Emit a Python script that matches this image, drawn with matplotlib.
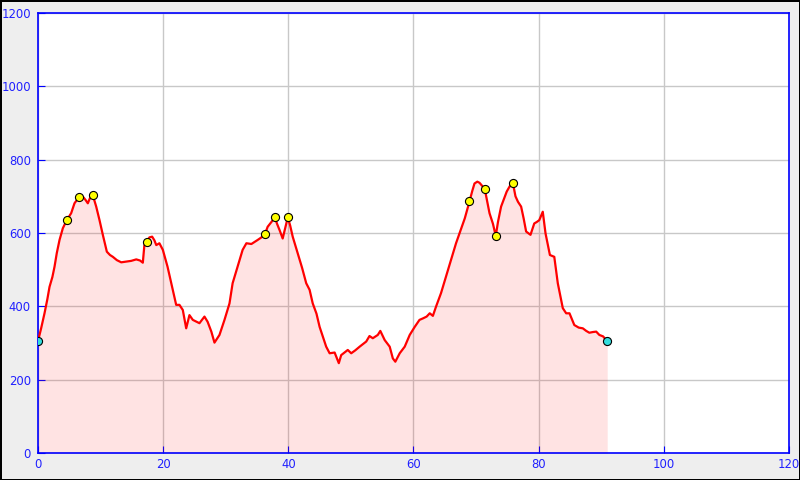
import numpy as np
import matplotlib
matplotlib.use("Agg")
import matplotlib.pyplot as plt

# elevation profile (km, m)
dist_km = [0.0, 0.5, 1.04, 1.5, 1.84, 2.3, 2.64, 3.0, 3.44, 3.97, 4.6, 5.3, 5.83, 6.52,
           7.0, 7.27, 7.6, 7.96, 8.3, 8.76, 9.3, 9.83, 10.36, 11.0, 11.5, 11.96, 12.6,
           13.3, 14.09, 14.9, 15.7, 16.3, 16.75, 17.0, 17.39, 17.8, 18.24, 18.6, 18.9,
           19.4, 19.95, 20.7, 21.54, 22.08, 22.6, 23.14, 23.68, 24.2, 24.74, 25.8, 26.6,
           27.1, 27.7, 28.2, 29.0, 29.8, 30.6, 31.1, 31.9, 32.7, 33.3, 34.1, 35.1, 35.7,
           36.25, 36.7, 37.3, 37.84, 38.2, 38.6, 39.1, 39.55, 39.92, 40.3, 40.7, 41.5,
           42.2, 42.86, 43.4, 43.9, 44.5, 45.0, 45.5, 46.05, 46.6, 47.4, 48.07, 48.45,
           49.5, 50.05, 50.7, 51.4, 52.45, 52.97, 53.5, 54.3, 54.7, 55.4, 56.2, 56.7,
           57.1, 57.8, 58.6, 59.4, 60.2, 60.96, 61.5, 62.1, 62.6, 63.1, 63.6, 64.4, 65.2,
           66.0, 66.8, 67.35, 68.2, 68.95, 69.4, 69.75, 70.2, 70.55, 71.0, 71.4, 72.15,
           72.7, 73.15, 73.5, 74.0, 74.5, 74.9, 75.4, 75.9, 76.3, 76.7, 77.2, 77.6, 78.0,
           78.7, 79.3, 79.7, 80.1, 80.66, 81.1, 81.8, 82.5, 83.06, 83.5, 83.86, 84.4,
           84.93, 85.7, 86.4, 87.06, 87.6, 88.1, 88.7, 89.2, 89.7, 90.3, 90.96]
elev_m = [305, 340, 381, 420, 453, 480, 508, 545, 581, 613, 635, 654, 681, 697,
          700, 697, 690, 681, 695, 703, 672, 635, 595, 549, 540, 535, 526,
          520, 522, 524, 528, 525, 519, 567, 575, 588, 590, 580, 567,
          572, 554, 508, 445, 404, 404, 390, 340, 376, 363, 354, 372,
          358, 331, 301, 322, 363, 408, 463, 508, 554, 572, 570, 581, 588,
          596, 617, 630, 643, 625, 608, 585, 617, 643, 620, 590, 545,
          505, 463, 445, 408, 380, 344, 318, 290, 272, 274, 245, 267,
          281, 272, 280, 290, 304, 319, 313, 322, 333, 308, 290, 258,
          249, 272, 290, 322, 344, 363, 367, 372, 381, 374, 399, 436, 481,
          526, 572, 599, 640, 686, 715, 735, 740, 737, 728, 719, 654,
          625, 592, 630, 672, 695, 713, 728, 735, 700, 685, 672, 640, 604,
          595, 626, 630, 635, 658, 599, 540, 535, 463, 425, 395, 381,
          381, 349, 342, 340, 333, 328, 330, 331, 322, 318, 305]

# waypoints on the route
wp_km = [4.6, 6.52, 8.76, 17.39, 36.25, 37.84, 39.92, 68.95, 71.4, 73.15, 75.9]
wp_m = [635, 697, 703, 575, 596, 643, 643, 686, 719, 592, 735]
# start and end
se_km = [0.0, 90.96]
se_m = [305, 305]

blue = '#2020ff'

fig = plt.figure(figsize=(8, 4.8), dpi=100, facecolor='#eeeeee',
                 edgecolor='black', linewidth=2)
ax = fig.add_axes([0.0475, 0.05625, 0.9387, 0.9167])
ax.set_facecolor('white')

ax.fill_between(dist_km, elev_m, 0, color='red', alpha=0.11, lw=0, zorder=2)
ax.plot(dist_km, elev_m, color='red', lw=1.6, zorder=3)
ax.scatter(wp_km, wp_m, s=34, c='yellow', edgecolors='black', linewidths=0.8, zorder=4)
ax.scatter(se_km, se_m, s=34, c='#33dddd', edgecolors='black', linewidths=0.8, zorder=4)

ax.set_xlim(0, 120)
ax.set_ylim(0, 1200)
ax.set_xticks(np.arange(0, 121, 20))
ax.set_yticks(np.arange(0, 1201, 200))
ax.grid(True, color='#c8c8c8', lw=1, zorder=1)
ax.set_axisbelow(True)

for s in ax.spines.values():
    s.set_color('blue')
    s.set_linewidth(1.2)
ax.tick_params(direction='in', length=5, color='blue', labelcolor=blue,
               labelsize=8.4)
ax.tick_params(axis='y', pad=5)
ax.tick_params(axis='x', pad=3.5)

fig.savefig('out.png', dpi=100, facecolor=fig.get_facecolor())
